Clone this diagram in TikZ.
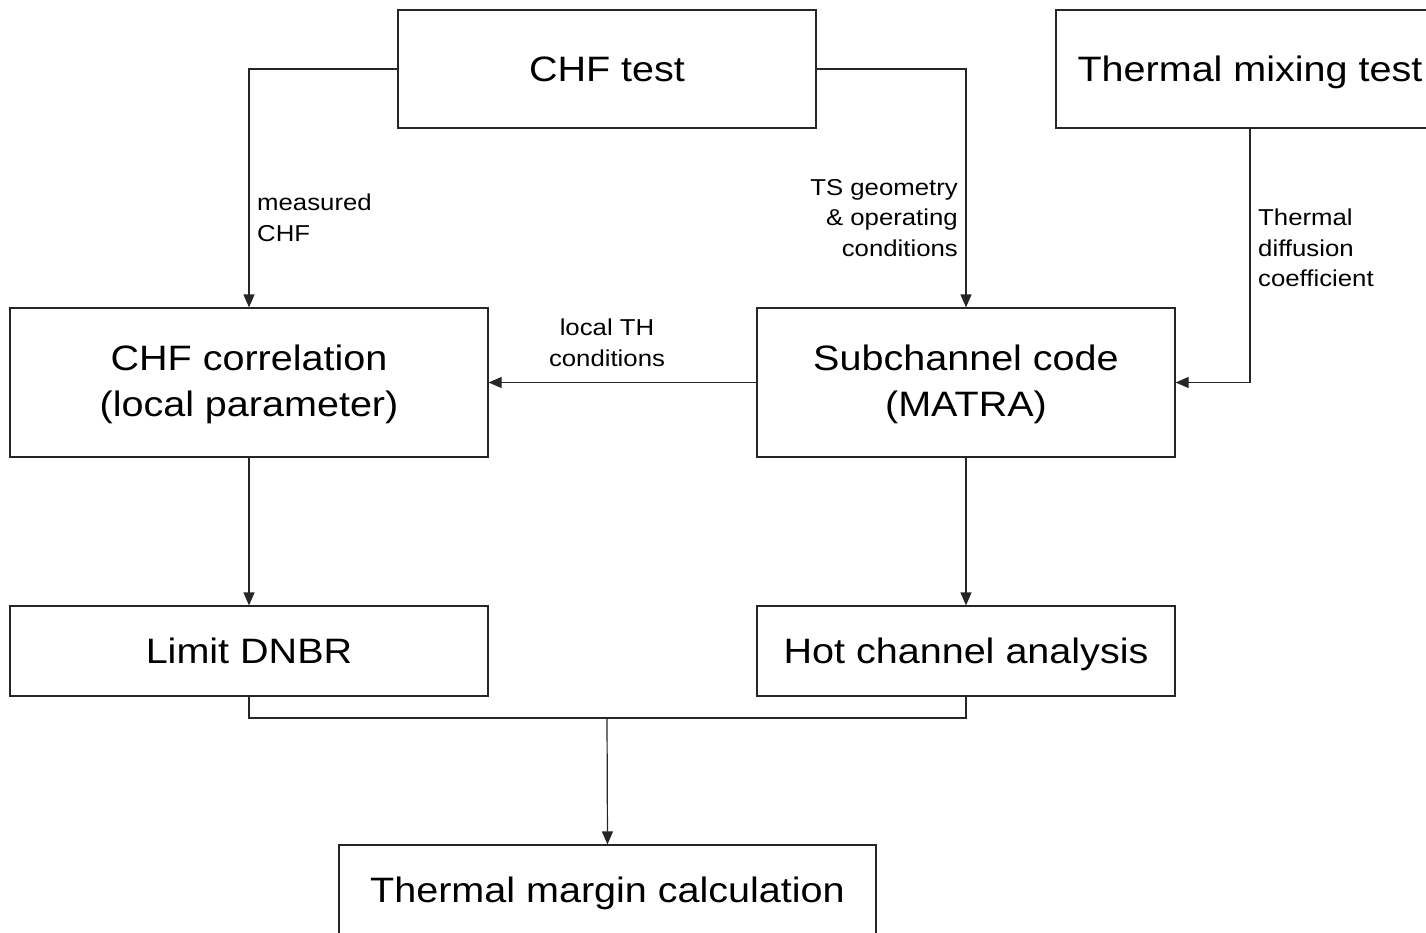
\documentclass[tikz,border=0pt]{standalone}
\usepackage{fontspec}
\setmainfont{Liberation Sans}[FakeStretch=1.12]
\usetikzlibrary{arrows.meta}
\tikzset{
  box/.style={draw=black!85, line width=1.2pt, inner sep=0pt, align=center,
    text height=25.3pt, text depth=0pt,
    font=\fontsize{35.3}{46}\selectfont},
  twoline/.style={text height=71.3pt, text depth=3pt},
  lbl/.style={inner sep=0pt, font=\fontsize{23}{30.5}\selectfont},
  conn/.style={draw=black!85, line width=1.2pt},
  arr/.style={conn, -{Triangle[length=13pt,width=11pt]}},
}
\begin{document}
\begin{tikzpicture}[x=1pt,y=-1pt]
\useasboundingbox (0,0) rectangle (1426,933);
\node[box, minimum width=418pt, minimum height=118pt] (chf) at (607,69) {CHF test};
\node[box, minimum width=388pt, minimum height=118pt] (tmix) at (1250,69) {Thermal mixing test};
\node[box, twoline, minimum width=478pt, minimum height=149pt] (corr) at (249,382.5) {CHF correlation\\(local parameter)};
\node[box, twoline, minimum width=418pt, minimum height=149pt] (sub) at (966,382.5) {Subchannel code\\(MATRA)};
\node[box, minimum width=478pt, minimum height=90pt] (dnbr) at (249,651) {Limit DNBR};
\node[box, minimum width=418pt, minimum height=90pt] (hot) at (966,651) {Hot channel analysis};
\node[box, minimum width=537pt, minimum height=90pt] (margin) at (607.5,890) {Thermal margin calculation};
\coordinate (j) at (607,718);

\node[lbl, anchor=west, align=left] (l1) at (257,218) {measured\\CHF};
\node[lbl, anchor=east, align=right] (l2) at (958,218) {TS geometry\\\& operating\\conditions};
\node[lbl, anchor=west, align=left] (l3) at (1258,248) {Thermal\\diffusion\\coefficient};
\node[lbl, align=center] (l4) at (607,343) {local TH\\conditions};

\draw[arr] (chf.west) -| (corr.north);
\draw[arr] (chf.east) -| (sub.north);
\draw[arr] (tmix.south) |- (sub.east);
\draw[arr] (sub.west) -- (corr.east);
\draw[arr] (corr.south) -- (dnbr.north);
\draw[arr] (sub.south) -- (hot.north);
\draw[conn] (dnbr.south) |- (j) -| (hot.south);
\draw[arr] (j) -- (margin.north);
\end{tikzpicture}
\end{document}
